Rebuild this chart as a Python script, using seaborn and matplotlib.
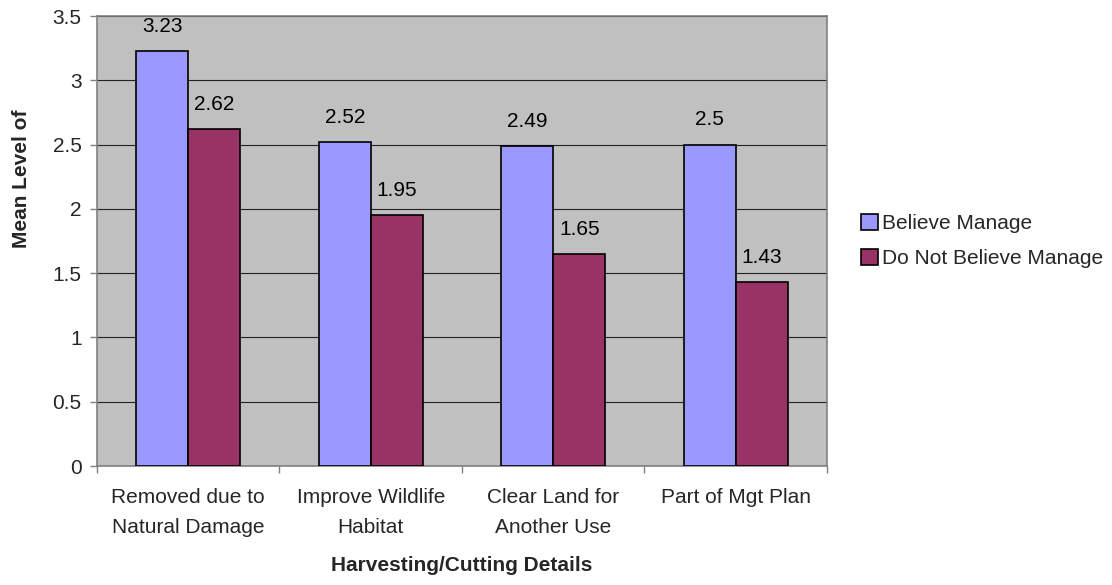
import matplotlib
matplotlib.use("Agg")
import matplotlib.pyplot as plt
import seaborn as sns
import pandas as pd

categories = ["Removed due to\nNatural Damage", "Improve Wildlife\nHabitat",
              "Clear Land for\nAnother Use", "Part of Mgt Plan"]
believe = [3.23, 2.52, 2.49, 2.5]
not_believe = [2.62, 1.95, 1.65, 1.43]
series_names = ["Believe Manage", "Do Not Believe Manage"]
y_ticks = [0, 0.5, 1, 1.5, 2, 2.5, 3, 3.5]

df = pd.DataFrame({
    "category": categories * 2,
    "value": believe + not_believe,
    "series": [series_names[0]] * 4 + [series_names[1]] * 4,
})

sns.set_theme(style="white")
plt.rcParams["font.family"] = ["Liberation Sans", "DejaVu Sans"]
FS = 15

fig = plt.figure(figsize=(11.12, 5.85), dpi=100)
ax = fig.add_axes([0.0872, 0.2034, 0.6565, 0.769])
ax.set_facecolor("#C0C0C0")

palette = {series_names[0]: "#9999FF", series_names[1]: "#993366"}
sns.barplot(data=df, x="category", y="value", hue="series", palette=palette,
            width=0.57, edgecolor="black", linewidth=1.2, saturation=1,
            ax=ax, zorder=3)

ax.set_ylim(0, 3.5)
ax.set_xlim(-0.5, 3.5)
ax.set_yticks(y_ticks)
ax.set_yticklabels([f"{t:g}" for t in y_ticks], fontsize=FS)
ax.yaxis.grid(True, color="#222222", linewidth=0.8, zorder=0)
ax.set_axisbelow(True)

# category ticks sit on group boundaries, labels centered on groups
ax.set_xticks([-0.5, 0.5, 1.5, 2.5, 3.5])
ax.set_xticklabels([])
ax.set_xticks(range(4), minor=True)
ax.set_xticklabels(categories, minor=True, fontsize=FS, linespacing=1.75)
ax.tick_params(axis="x", which="minor", length=0, pad=16)
ax.tick_params(axis="x", which="major", length=5, width=1, color="#808080", direction="out", bottom=True)
ax.tick_params(axis="y", length=5, width=1, color="#808080", direction="out", left=True, labelsize=FS, pad=6)

for side in ["left", "bottom", "top", "right"]:
    ax.spines[side].set_color("#808080")
    ax.spines[side].set_linewidth(1.2)

for container in ax.containers:
    for bar in container:
        h = bar.get_height()
        ax.annotate(f"{h:g}", (bar.get_x() + bar.get_width() / 2, h),
                    xytext=(0, 11), textcoords="offset points",
                    ha="center", va="bottom", fontsize=FS, color="black")

ax.set_xlabel("Harvesting/Cutting Details", fontsize=FS, fontweight="bold", labelpad=13)
ax.set_ylabel("Mean Level of", fontsize=FS, fontweight="bold")
ax.yaxis.set_label_coords(-0.09, 0.638)

handles, labels = ax.get_legend_handles_labels()
ax.legend(handles, labels, loc="center left", bbox_to_anchor=(1.035, 0.5),
          frameon=False, fontsize=FS, handlelength=0.8, handleheight=0.8,
          handletextpad=0.2, labelspacing=0.75, borderaxespad=0)

fig.savefig("out.png", dpi=100, facecolor="white")
